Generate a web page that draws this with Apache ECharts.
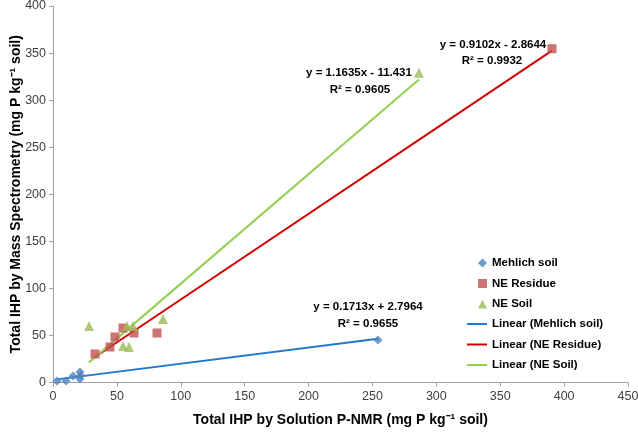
<!DOCTYPE html>
<html><head><meta charset="utf-8">
<script src="https://cdn.jsdelivr.net/npm/echarts@6/dist/echarts.min.js"></script>
<style>html,body{margin:0;padding:0;background:#fff}#c{width:638px;height:432px}</style>
</head><body><div id="c"></div>
<script>
var mehlichX = [3.1, 10.2, 15.7, 21.1, 21.1, 21.6, 254.3];
var mehlichY = [1.6, 1.6, 6.9, 11.2, 3.7, 7.5, 45.2];
var residueX = [32.9, 44.6, 48.5, 54.8, 63.4, 81.4, 390.5];
var residueY = [30.3, 37.7, 48.4, 57.9, 52.6, 52.6, 354.6];
var soilX = [28.2, 57.9, 62.6, 86.1, 54.8, 59.5, 286.4];
var soilY = [60.1, 60.1, 60.1, 67.5, 38.8, 37.7, 329];
var fits = [
  {name:'Linear (Mehlich soil)', a:0.1713, b:2.7964, r2:'0.9655', eq:'y = 0.1713x + 2.7964'},
  {name:'Linear (NE Residue)', a:0.9102, b:-2.8644, r2:'0.9932', eq:'y = 0.9102x - 2.8644'},
  {name:'Linear (NE Soil)', a:1.1635, b:-11.431, r2:'0.9605', eq:'y = 1.1635x - 11.431'}
];
var xTicks = [0,50,100,150,200,250,300,350,400,450];
var yTicks = [0,50,100,150,200,250,300,350,400];

function pts(xs, ys){ return xs.map(function(x,i){return [x, ys[i]];}); }
function fitLine(xs, f){
  var lo = Math.min.apply(null, xs), hi = Math.max.apply(null, xs);
  return [[lo, f.a*lo+f.b],[hi, f.a*hi+f.b]];
}
var FONT = '"Liberation Sans", Arial, sans-serif';
var chart = echarts.init(document.getElementById('c'));
var eqStyle = {fontFamily:FONT, fontWeight:'bold', fontSize:11.5, fill:'#000', align:'center', verticalAlign:'middle'};
var legText = {fontFamily:FONT, fontWeight:'bold', fontSize:11.5, lineHeight:12, color:'#000'};
chart.setOption({
  animation:false,
  grid:{left:53, right:10, top:6, bottom:49.5, outerBoundsMode:'none', containLabel:false},
  xAxis:{type:'value', min:xTicks[0], max:xTicks[xTicks.length-1], interval:50,
    name:'Total IHP by Solution P-NMR (mg P kg\u207B\u00B9 soil)', nameLocation:'middle', nameGap:31, nameMoveOverlap:false,
    nameTextStyle:{fontFamily:FONT, fontWeight:'bold', fontSize:14, color:'#000'},
    axisLine:{lineStyle:{color:'#a0a0a0'}}, axisTick:{show:true, length:4, lineStyle:{color:'#a0a0a0'}},
    splitLine:{show:false},
    axisLabel:{fontFamily:FONT, fontSize:12.5, color:'#404040', margin:8}},
  yAxis:{type:'value', min:yTicks[0], max:yTicks[yTicks.length-1], interval:50,
    name:'Total IHP by Mass Spectrometry (mg P kg\u207B\u00B9 soil)', nameLocation:'middle', nameGap:30, nameMoveOverlap:false,
    nameTextStyle:{fontFamily:FONT, fontWeight:'bold', fontSize:14, color:'#000'},
    axisLine:{show:true, lineStyle:{color:'#a0a0a0'}}, axisTick:{show:true, length:4, lineStyle:{color:'#a0a0a0'}},
    splitLine:{show:false},
    axisLabel:{fontFamily:FONT, fontSize:12.5, color:'#404040', margin:7}},
  legend:[
    {orient:'vertical', left:473, top:252, itemGap:8.5, itemWidth:9, itemHeight:9, textStyle:legText,
     data:[{name:'Mehlich soil', icon:'diamond'},{name:'NE Residue', icon:'rect'},{name:'NE Soil', icon:'triangle'}]},
    {orient:'vertical', left:462, top:313, itemGap:8.5, itemWidth:20, itemHeight:2, textStyle:legText,
     data:[{name:fits[0].name, icon:'rect'},{name:fits[1].name, icon:'rect'},{name:fits[2].name, icon:'rect'}]}
  ],
  series:[
    {name:fits[0].name, type:'line', data:fitLine(mehlichX, fits[0]), symbol:'none', lineStyle:{color:'#1F77D0', width:2}, itemStyle:{color:'#1F77D0'}, z:1},
    {name:fits[1].name, type:'line', data:fitLine(residueX, fits[1]), symbol:'none', lineStyle:{color:'#D00000', width:2}, itemStyle:{color:'#D00000'}, z:1},
    {name:fits[2].name, type:'line', data:fitLine(soilX, fits[2]), symbol:'none', lineStyle:{color:'#92D050', width:2}, itemStyle:{color:'#92D050'}, z:1},
    {name:'Mehlich soil', type:'scatter', symbol:'diamond', symbolSize:9, data:pts(mehlichX, mehlichY), itemStyle:{color:'#4F81BD'}, z:3},
    {name:'NE Residue', type:'scatter', symbol:'rect', symbolSize:9, data:pts(residueX, residueY), itemStyle:{color:'#C0504D'}, z:3},
    {name:'NE Soil', type:'scatter', symbol:'triangle', symbolSize:10, data:pts(soilX, soilY), itemStyle:{color:'#9BBB59'}, z:3}
  ],
  graphic:[
    {type:'text', style:Object.assign({text:fits[1].eq, x:493, y:45}, eqStyle)},
    {type:'text', style:Object.assign({text:'R\u00B2 = '+fits[1].r2, x:492, y:61}, eqStyle)},
    {type:'text', style:Object.assign({text:fits[2].eq, x:359, y:73}, eqStyle)},
    {type:'text', style:Object.assign({text:'R\u00B2 = '+fits[2].r2, x:360, y:90}, eqStyle)},
    {type:'text', style:Object.assign({text:fits[0].eq, x:368, y:307}, eqStyle)},
    {type:'text', style:Object.assign({text:'R\u00B2 = '+fits[0].r2, x:368, y:324}, eqStyle)}
  ]
});
</script></body></html>
